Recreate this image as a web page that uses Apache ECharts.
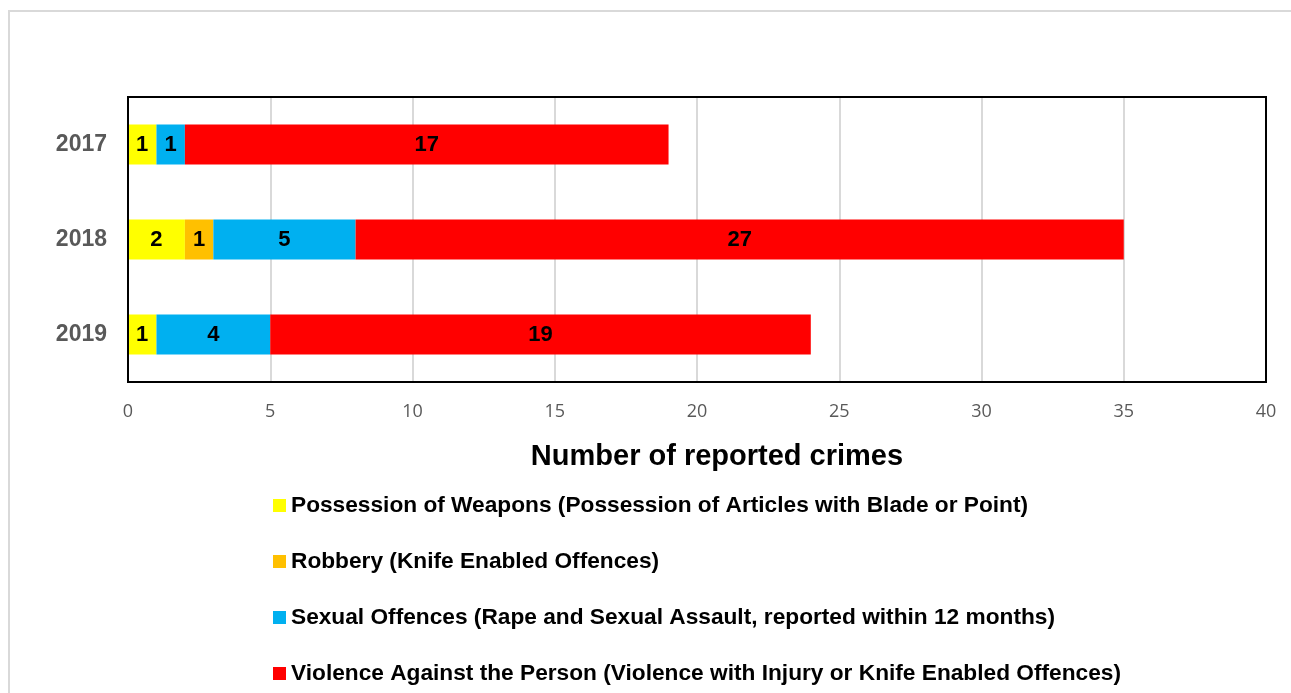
<!DOCTYPE html>
<html>
<head>
<meta charset="utf-8">
<script src="https://cdn.jsdelivr.net/npm/echarts@6/dist/echarts.min.js"></script>
<style>
  html, body { margin: 0; padding: 0; background: #fff; }
  #frame { position: absolute; left: 8px; top: 10px; width: 1290px; height: 700px;
           border: 2px solid #d9d9d9; box-sizing: border-box; }
  #chart { position: absolute; left: 0; top: 0; width: 1291px; height: 693px; }
</style>
</head>
<body>
<div id="frame"></div>
<div id="chart"></div>
<script>
const years = ["2017", "2018", "2019"];
const seriesNames = [
  "Possession of Weapons (Possession of Articles with Blade or Point)",
  "Robbery (Knife Enabled Offences)",
  "Sexual Offences (Rape and Sexual Assault, reported within 12 months)",
  "Violence Against the Person (Violence with Injury or Knife Enabled Offences)"
];
const possession = [1, 2, 1];
const robbery = [0, 1, 0];
const sexual = [1, 5, 4];
const violence = [17, 27, 19];
const xTicks = [0, 5, 10, 15, 20, 25, 30, 35, 40];

const COLORS = ["#ffff00", "#ffc000", "#00b0f0", "#ff0000"];
const values = [possession, robbery, sexual, violence];

const chart = echarts.init(document.getElementById("chart"));

const option = {
  animation: false,
  grid: { left: 128, right: 25, top: 97, height: 285 },
  // black frame round the plot area (drawn on top of the grid lines)
  graphic: [{
    type: "rect", z: 100, silent: true,
    shape: { x: 128, y: 97, width: 1138, height: 285 },
    style: { fill: null, stroke: "#000", lineWidth: 2 }
  }],
  xAxis: {
    type: "value",
    min: xTicks[0], max: xTicks[xTicks.length - 1], interval: 5,
    axisLine: { show: false },
    axisTick: { show: false },
    splitLine: { lineStyle: { color: "#d9d9d9", width: 2 } },
    axisLabel: { color: "#595959", fontSize: 18, fontFamily: "Open Sans", margin: 21 },
    name: "Number of reported crimes",
    nameLocation: "middle",
    nameGap: 60,
    nameTextStyle: { color: "#000", fontSize: 29, fontWeight: "bold", fontFamily: "Liberation Sans", padding: [0, 0, 0, 40] }
  },
  yAxis: {
    type: "category",
    data: years,
    inverse: true,
    axisLine: { show: false },
    axisTick: { show: false },
    axisLabel: { color: "#595959", fontSize: 23, fontWeight: "bold", fontFamily: "Liberation Sans", margin: 21 }
  },
  legend: {
    orient: "vertical",
    left: 268, top: 489, height: 220,
    itemWidth: 13, itemHeight: 13, itemGap: 33,
    icon: "rect",
    data: seriesNames,
    textStyle: { color: "#000", fontSize: 22.7, fontWeight: "bold", fontFamily: "Liberation Sans", padding: [0, 0, 0, 0] }
  },
  series: seriesNames.map((name, i) => ({
    name: name,
    type: "bar",
    stack: "total",
    barWidth: 40,
    itemStyle: { color: COLORS[i] },
    label: {
      show: true, position: "inside",
      color: "#000", fontSize: 22, fontWeight: "bold", fontFamily: "Liberation Sans",
      formatter: (p) => (p.value ? p.value : "")
    },
    data: values[i]
  }))
};
chart.setOption(option);
</script>
</body>
</html>
